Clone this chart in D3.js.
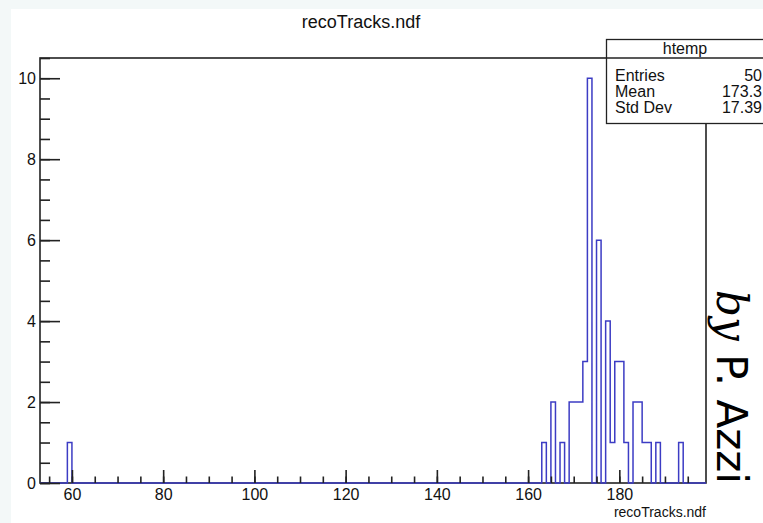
<!DOCTYPE html>
<html>
<head>
<meta charset="utf-8">
<script src="https://cdn.jsdelivr.net/npm/d3@7"></script>
<style>
  body { margin: 0; background: #f3f8f8; }
  svg { display: block; }
  text { font-family: "Liberation Sans", Arial, sans-serif; fill: #111; }
</style>
</head>
<body>
<svg width="763" height="523"></svg>
<script>
// histogram of recoTracks.ndf (1-unit bins, lower edges + counts)
var binLow = [59, 163, 165, 167, 169, 170, 171, 172, 173, 175, 177, 178, 179, 180, 181, 183, 184, 185, 186, 188, 193],
    counts = [1, 1, 2, 1, 2, 2, 2, 3, 10, 6, 4, 1, 3, 3, 1, 2, 2, 1, 1, 1, 1];

var xTicks = [60, 80, 100, 120, 140, 160, 180],
    yTicks = [0, 2, 4, 6, 8, 10];

var statNames = ["Entries", "Mean", "Std Dev"],
    statValues = ["50", "173.3", "17.39"];

var svg = d3.select("svg"),
    width = +svg.attr("width"),
    height = +svg.attr("height");

// white pad
svg.append("rect").attr("x", 11).attr("y", 9).attr("width", width - 11).attr("height", height - 9).attr("fill", "#fff");

var x = d3.scaleLinear().domain([53, 199]).range([40, 706]),
    y = d3.scaleLinear().domain([0, 10.5]).range([483, 58]);

// title
svg.append("text").attr("x", 361).attr("y", 28).attr("text-anchor", "middle")
  .style("font-size", "18px").text("recoTracks.ndf");

// frame
svg.append("rect").attr("x", x(53)).attr("y", y(10.5))
  .attr("width", x(199) - x(53)).attr("height", y(0) - y(10.5))
  .attr("fill", "none").attr("stroke", "#222").attr("stroke-width", 1.6);

// histogram outline
var full = d3.range(53, 199).map(function(lo) {
  var i = binLow.indexOf(lo);
  return {lo: lo, c: i < 0 ? 0 : counts[i]};
});
var pts = [[53, 0]];
full.forEach(function(d) { pts.push([d.lo, d.c]); pts.push([d.lo + 1, d.c]); });
pts.push([199, 0]);

var line = d3.line().x(function(d) { return x(d[0]); }).y(function(d) { return y(d[1]); });
svg.append("path").datum(pts).attr("d", line)
  .attr("fill", "none").attr("stroke", "#3c3cc4").attr("stroke-width", 1.5);

// y axis
var yMinor = svg.append("g").attr("transform", "translate(" + x(53) + ",0)")
  .call(d3.axisLeft(y).tickValues(d3.range(0, 10.51, 0.5)).tickSize(-10).tickSizeOuter(0).tickFormat(""));
var yAxis = svg.append("g").attr("transform", "translate(" + x(53) + ",0)")
  .call(d3.axisLeft(y).tickValues(yTicks).tickSize(-20).tickSizeOuter(0).tickPadding(4));

// x axis
var xMinor = svg.append("g").attr("transform", "translate(0," + y(0) + ")")
  .call(d3.axisBottom(x).tickValues(d3.range(55, 199, 5)).tickSize(-6.5).tickSizeOuter(0).tickFormat(""));
var xAxis = svg.append("g").attr("transform", "translate(0," + y(0) + ")")
  .call(d3.axisBottom(x).tickValues(xTicks).tickSize(-13).tickSizeOuter(0).tickPadding(6));

svg.selectAll(".domain").remove();
svg.selectAll(".tick line").attr("stroke", "#222").attr("stroke-width", 1.6);
svg.selectAll(".tick text").style("font-size", "16px").attr("fill", "#111")
  .style("font-family", "Liberation Sans, Arial, sans-serif");

// x axis title
svg.append("text").attr("x", 706).attr("y", 517).attr("text-anchor", "end")
  .style("font-size", "14px").text("recoTracks.ndf");

// stats box
var box = svg.append("g");
box.append("rect").attr("x", 606.5).attr("y", 39.5).attr("width", 200).attr("height", 84)
  .attr("fill", "#fff").attr("stroke", "#222").attr("stroke-width", 1.3);
box.append("line").attr("x1", 606.5).attr("x2", 763).attr("y1", 58).attr("y2", 58)
  .attr("stroke", "#222").attr("stroke-width", 1.3);
box.append("text").attr("x", 685).attr("y", 54).attr("text-anchor", "middle")
  .style("font-size", "16px").text("htemp");
statNames.forEach(function(n, i) {
  box.append("text").attr("x", 615).attr("y", 80.5 + i * 16.3).style("font-size", "16px").text(n);
  box.append("text").attr("x", 762).attr("y", 80.5 + i * 16.3).attr("text-anchor", "end")
    .style("font-size", "16px").text(statValues[i]);
});

// author note
var note = svg.append("text").attr("transform", "translate(717,290) rotate(90)")
  .style("font-size", "42px").style("fill", "#000");
note.append("tspan").style("font-family", "DejaVu Serif, serif").style("font-style", "italic").text("by");
note.append("tspan").style("font-family", "DejaVu Sans, sans-serif").text(" P. Azzi");
</script>
</body>
</html>
